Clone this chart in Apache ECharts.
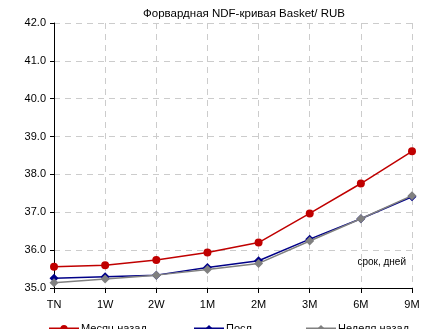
<!DOCTYPE html>
<html><head><meta charset="utf-8">
<script src="https://cdn.jsdelivr.net/npm/echarts@6/dist/echarts.min.js"></script>
<style>html,body{margin:0;padding:0;background:#fff}#c{width:438px;height:329px}</style>
</head><body><div id="c"></div>
<script>
const categories = ['TN','1W','2W','1M','2M','3M','6M','9M'];
const monthAgo = [35.56, 35.60, 35.74, 35.94, 36.20, 36.97, 37.76, 38.61];
const latest   = [35.26, 35.30, 35.34, 35.54, 35.72, 36.29, 36.83, 37.41];
const weekAgo  = [35.14, 35.24, 35.34, 35.49, 35.65, 36.24, 36.83, 37.44];
const seriesNames = ['Месяц назад', 'Посл', 'Неделя назад'];
const title = 'Форвардная NDF-кривая Basket/ RUB';
const axisNote = 'срок, дней';

const font = 'Liberation Sans, Arial, sans-serif';
const chart = echarts.init(document.getElementById('c'), null, {renderer: 'canvas'});
const gridDash = {type: [6, 5], color: '#cccccc', width: 1};
function legend(name, left) {
  return {data: [name], left: left, top: 323, itemWidth: 30, itemHeight: 9,
    textStyle: {fontFamily: font, fontSize: 11, color: '#000', padding: [0,0,0,-3]}, padding: 0, selectedMode: false};
}
chart.setOption({
  animation: false,
  title: {text: title, left: 239, textAlign: 'center', top: 3,
    textStyle: {fontFamily: font, fontSize: 11.5, fontWeight: 'normal', color: '#000'}},
  grid: {left: 54, right: 26, top: 23, bottom: 41, containLabel: false},
  legend: [legend(seriesNames[0], 48), legend(seriesNames[1], 193), legend(seriesNames[2], 305)],
  xAxis: {type: 'category', data: categories, boundaryGap: false,
    axisLine: {lineStyle: {color: '#000', width: 1}},
    axisTick: {show: true, alignWithLabel: true, length: 5, lineStyle: {color: '#000'}},
    axisLabel: {fontFamily: font, fontSize: 11, color: '#000', margin: 11},
    splitLine: {show: true, lineStyle: gridDash}},
  yAxis: {type: 'value', min: 35, max: 42, interval: 1,
    axisLine: {show: true, lineStyle: {color: '#000', width: 1}},
    axisTick: {show: true, length: 4, lineStyle: {color: '#000'}},
    axisLabel: {fontFamily: font, fontSize: 11, color: '#000', margin: 8, formatter: v => v.toFixed(1)},
    splitLine: {show: true, lineStyle: gridDash}},
  graphic: [{type: 'text', right: 32, top: 257, style: {text: axisNote, font: '10px ' + font, fill: '#000'}}],
  series: [
    {name: seriesNames[0], type: 'line', data: monthAgo, symbol: 'circle', symbolSize: 8,
      itemStyle: {color: '#C00000'}, lineStyle: {color: '#C00000', width: 1.5}, z: 3},
    {name: seriesNames[1], type: 'line', data: latest, symbol: 'diamond', symbolSize: 9,
      itemStyle: {color: '#000088'}, lineStyle: {color: '#000088', width: 1.5}, z: 2},
    {name: seriesNames[2], type: 'line', data: weekAgo, symbol: 'diamond', symbolSize: 9,
      itemStyle: {color: '#808080'}, lineStyle: {color: '#808080', width: 1.5}, z: 4}
  ]
});
</script></body></html>
